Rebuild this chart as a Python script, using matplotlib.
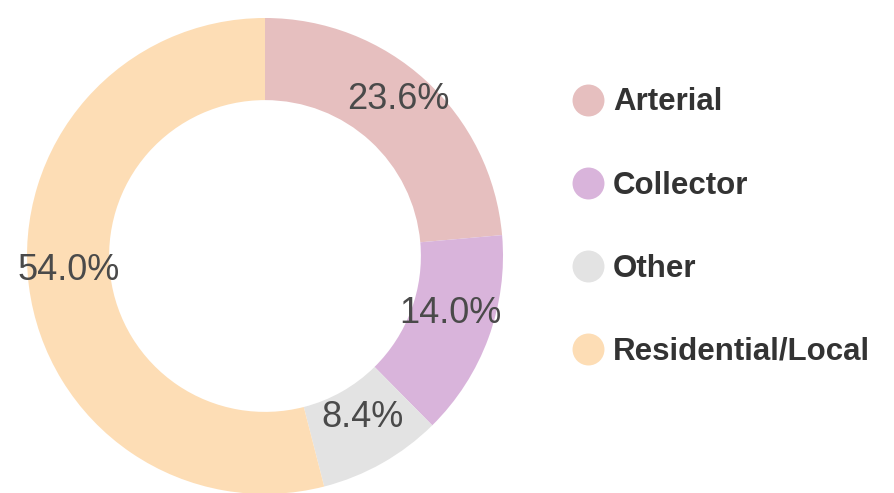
import matplotlib.pyplot as plt
from matplotlib.lines import Line2D

categories = ["Arterial", "Collector", "Other", "Residential/Local"]
shares = [23.6, 14.0, 8.4, 54.0]
colors = ["#E6BFBF", "#D9B4DB", "#E3E3E3", "#FDDDB5"]

fig = plt.figure(figsize=(8.94, 4.93), dpi=100)
ax = fig.add_axes([27 / 894, -1 / 493, 476 / 894, 476 / 493])

wedges, texts, autotexts = ax.pie(
    shares,
    colors=colors,
    startangle=90,
    counterclock=False,
    autopct="%.1f%%",
    pctdistance=0.83,
    radius=1,
    wedgeprops=dict(width=0.345, linewidth=0),
    textprops=dict(fontsize=26, color="#4a4a4a", family="Liberation Sans"),
)
for t in autotexts:
    x, y = t.get_position()
    t.set_position((x, y + 0.045))
ax.set_xlim(-1, 1)
ax.set_ylim(-1, 1)
ax.set_aspect("equal")

handles = [
    Line2D([], [], linestyle="none", marker="o", markersize=23,
           markerfacecolor=c, markeredgewidth=0)
    for c in colors
]
fig.legend(
    handles, categories,
    loc="upper left", bbox_to_anchor=(560 / 894, 1 - 75 / 493),
    frameon=False, handlelength=1.0, handletextpad=0.3,
    labelspacing=1.7, borderaxespad=0,
    prop=dict(family="Liberation Sans", weight="bold", size=22.5),
    labelcolor="#333333",
)

fig.savefig("out.png", dpi=100)
